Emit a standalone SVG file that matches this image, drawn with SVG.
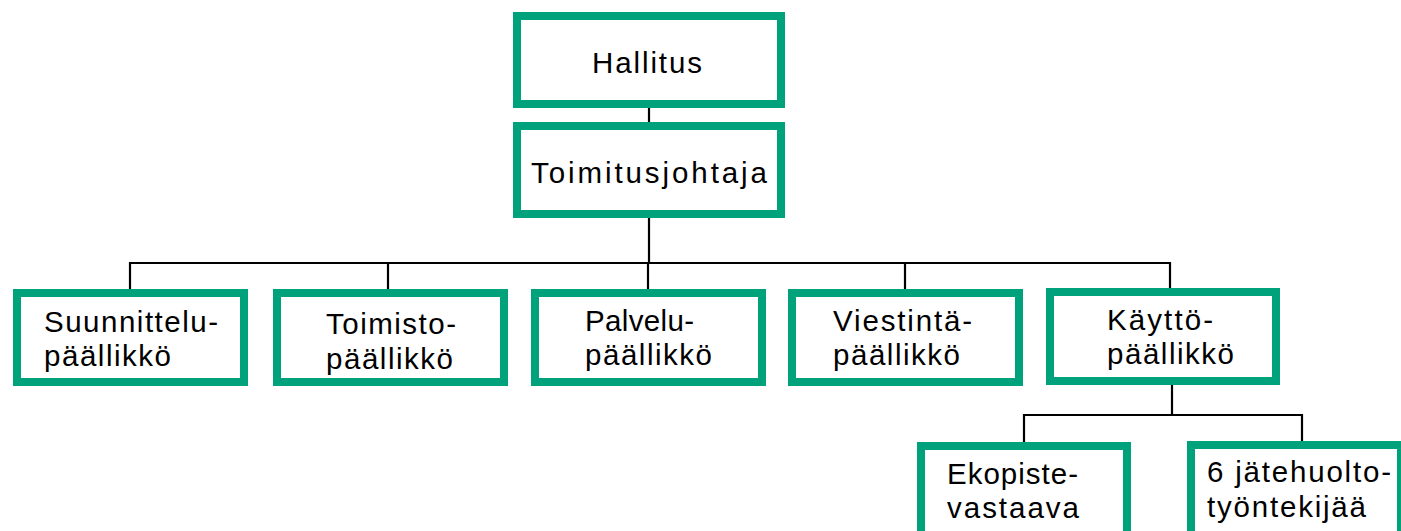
<svg xmlns="http://www.w3.org/2000/svg" width="1401" height="531" viewBox="0 0 1401 531">
<style>
.box{fill:#fff;stroke:#00a27b;stroke-width:8}
.lbl{font-family:"Liberation Sans","Open Sans",sans-serif;font-size:29.5px;fill:#000}
.conn line{stroke:#000;stroke-width:2.2}
</style>
<rect width="1401" height="531" fill="#fff"/>
<g id="connectors" class="conn">
<line x1="649" y1="108" x2="649" y2="122"/>
<line x1="649" y1="218" x2="649" y2="263"/>
<line x1="129" y1="263" x2="1171" y2="263"/>
<line x1="130" y1="262" x2="130" y2="289"/>
<line x1="388" y1="262" x2="388" y2="289"/>
<line x1="648" y1="262" x2="648" y2="289"/>
<line x1="905" y1="262" x2="905" y2="289"/>
<line x1="1170" y1="262" x2="1170" y2="288"/>
<line x1="1172" y1="385" x2="1172" y2="415"/>
<line x1="1023" y1="415" x2="1303" y2="415"/>
<line x1="1024" y1="414" x2="1024" y2="442"/>
<line x1="1302" y1="414" x2="1302" y2="441"/>
</g>
<g id="hallitus">
<rect class="box" x="517" y="16" width="264" height="88"/>
<text class="lbl" x="592" y="73" textLength="110">Hallitus</text>
</g>
<g id="toimitusjohtaja">
<rect class="box" x="517" y="126" width="264" height="88"/>
<text class="lbl" x="531" y="183" textLength="236">Toimitusjohtaja</text>
</g>
<g id="suunnittelu">
<rect class="box" x="17" y="293" width="227" height="89"/>
<text class="lbl" x="44" y="332" textLength="174">Suunnittelu-</text>
<text class="lbl" x="44" y="366" textLength="127">päällikkö</text>
</g>
<g id="toimisto">
<rect class="box" x="277" y="293" width="227" height="89"/>
<text class="lbl" x="326" y="334" textLength="130">Toimisto-</text>
<text class="lbl" x="326" y="369" textLength="127">päällikkö</text>
</g>
<g id="palvelu">
<rect class="box" x="535" y="293" width="227" height="89"/>
<text class="lbl" x="585" y="331" textLength="109">Palvelu-</text>
<text class="lbl" x="585" y="365" textLength="127">päällikkö</text>
</g>
<g id="viestinta">
<rect class="box" x="792" y="293" width="227" height="89"/>
<text class="lbl" x="833" y="331" textLength="139">Viestintä-</text>
<text class="lbl" x="833" y="365" textLength="127">päällikkö</text>
</g>
<g id="kaytto">
<rect class="box" x="1050" y="292" width="226" height="89"/>
<text class="lbl" x="1107" y="330" textLength="106">Käyttö-</text>
<text class="lbl" x="1107" y="364" textLength="127">päällikkö</text>
</g>
<g id="ekopiste">
<rect class="box" x="921" y="446" width="206" height="100"/>
<text class="lbl" x="947" y="484" textLength="131">Ekopiste-</text>
<text class="lbl" x="947" y="518" textLength="132">vastaava</text>
</g>
<g id="jatehuolto">
<rect class="box" x="1191" y="445" width="210" height="100"/>
<text class="lbl" x="1207" y="482" textLength="184">6 jätehuolto-</text>
<text class="lbl" x="1207" y="517" textLength="159">työntekijää</text>
</g>
</svg>
